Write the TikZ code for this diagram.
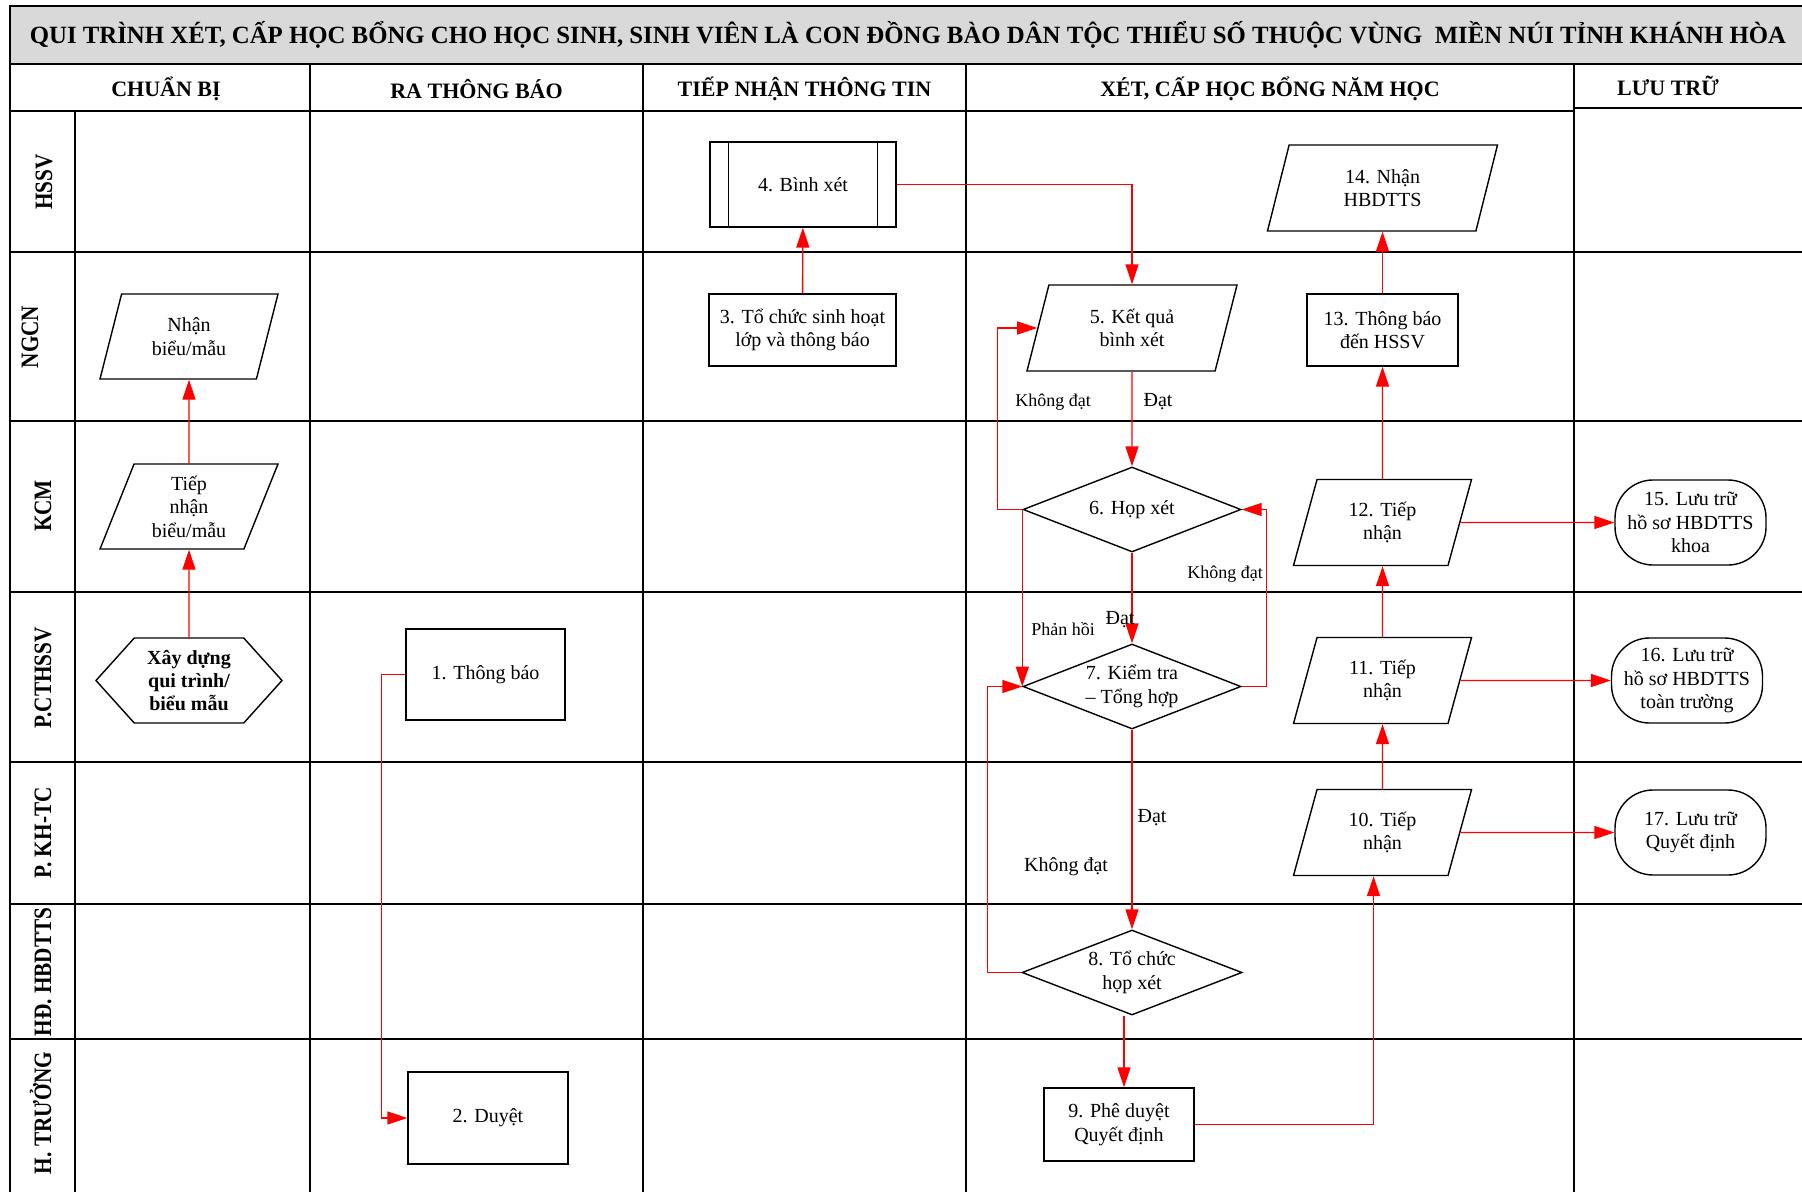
\documentclass[tikz,border=0pt]{standalone}
\usepackage{fontspec}
\setmainfont{Liberation Serif}
\newfontfamily\lanefont[FakeStretch=0.85]{Liberation Serif}
\usetikzlibrary{arrows.meta, shapes.geometric, shapes.symbols, positioning}
\definecolor{titlegray}{RGB}{217,217,217}

\begin{document}
\begin{tikzpicture}[x=0.5pt, y=-0.5pt,
  font=\fontsize{10}{11.7}\selectfont,
  laneline/.style={line width=0.8pt},
  procbox/.style={
    draw,
    rectangle,
    line width=0.7pt,
    fill=white,
    align=center
  },
  iobox/.style={
    draw,
    trapezium,
    trapezium left angle=62.5,
    trapezium right angle=117.5,
    trapezium stretches body=true,
    minimum width=89pt,
    minimum height=42.5pt,
    inner sep=1pt,
    line width=0.7pt,
    fill=white,
    align=center
  },
  decbox/.style={
    draw,
    diamond,
    aspect=2.5,
    minimum width=109pt,
    minimum height=42.5pt,
    inner sep=0pt,
    line width=0.7pt,
    fill=white,
    align=center
  },
  termbox/.style={
    draw,
    rectangle,
    rounded corners=19pt,
    minimum width=75.5pt,
    minimum height=42.5pt,
    line width=0.7pt,
    fill=white,
    align=center
  },
  hexbox/.style={
    draw,
    signal,
    signal to=west and east,
    signal pointer angle=96,
    minimum width=93pt,
    minimum height=42.5pt,
    line width=0.7pt,
    fill=white,
    align=center,
    font=\fontsize{10}{11.7}\selectfont\bfseries
  },
  lanetxt/.style={rotate=90, anchor=base, font=\lanefont\fontsize{12.5}{14}\selectfont\bfseries},
  headtxt/.style={font=\fontsize{11}{13}\selectfont\bfseries},
  edgetxt/.style={inner sep=1pt},
  line/.style={-{Triangle[length=10pt, width=6.5pt]}, red, line width=0.7pt}
  ]
\useasboundingbox (0,0) rectangle (1802,1192);

% Title and columns
\draw[laneline, fill=titlegray] (10,6) rectangle (1812,64);
\node[font=\fontsize{12.4}{14}\selectfont\bfseries] (title) at (908,35)
  {QUI TRÌNH XÉT, CẤP HỌC BỔNG CHO HỌC SINH, SINH VIÊN LÀ CON ĐỒNG BÀO DÂN TỘC THIỂU SỐ THUỘC VÙNG\ \ MIỀN NÚI TỈNH KHÁNH HÒA};

\draw[laneline] (10,64) -- (10,1200);
\draw[laneline] (10,111) -- (1574,111);
\draw[laneline] (1574,108) -- (1812,108);
\draw[laneline] (75,111) -- (75,1200);
\draw[laneline] (310,64) -- (310,1200);
\draw[laneline] (643,64) -- (643,1200);
\draw[laneline] (966,64) -- (966,1200);
\draw[laneline] (1574,64) -- (1574,1200);
\draw[laneline] (10,252) -- (1812,252);
\draw[laneline] (10,421) -- (1812,421);
\draw[laneline] (10,592) -- (1812,592);
\draw[laneline] (10,762) -- (1812,762);
\draw[laneline] (10,904) -- (1812,904);
\draw[laneline] (10,1039) -- (1812,1039);

\node[headtxt] (hcb) at (166,89) {CHUẨN BỊ};
\node[headtxt] (hrtb) at (476.5,89) {RA THÔNG BÁO};
\node[headtxt] (htn) at (804.5,89) {TIẾP NHẬN THÔNG TIN};
\node[headtxt] (hxet) at (1270,89) {XÉT, CẤP HỌC BỔNG NĂM HỌC};
\node[headtxt] (hlt) at (1668,86) {LƯU TRỮ};

% Lanes
\node[lanetxt] (lhssv) at (52,182) {HSSV};
\node[lanetxt] (lngcn) at (38,337) {NGCN};
\node[lanetxt] (lkcm) at (51,506) {KCM};
\node[lanetxt] (lpct) at (51,678) {P.CTHSSV};
\node[lanetxt] (lkhtc) at (51,833) {P. KH-TC};
\node[lanetxt] (lhd) at (51,972) {HĐ. HBDTTS};
\node[lanetxt] (lht) at (51,1113) {H. TRƯỞNG};

% Steps
\node[hexbox] (xd) at (189,680.5) {Xây dựng\\qui trình/\\biểu mẫu};
\node[iobox] (tnbm) at (189,506.5) {Tiếp\\nhận\\biểu/mẫu};
\node[iobox] (nbm) at (189,336.5) {Nhận\\biểu/mẫu};
\node[procbox, minimum width=79.5pt, minimum height=45.5pt] (tb1) at (485.5,674.5) {1. Thông báo};
\node[procbox, minimum width=80pt, minimum height=46pt] (dy2) at (488,1118) {2. Duyệt};
\node[procbox, minimum width=93.5pt, minimum height=36pt] (bt3) at (802.5,330) {3. Tổ chức sinh hoạt\\lớp và thông báo};
\node[procbox, minimum width=93pt, minimum height=42.5pt] (bx4) at (803,184.5) {4. Bình xét};
\draw[line width=0.7pt] ([xshift=9.5pt]bx4.north west) -- ([xshift=9.5pt]bx4.south west)
  ([xshift=-9.5pt]bx4.north east) -- ([xshift=-9.5pt]bx4.south east);
\node[iobox, minimum width=105pt, minimum height=43pt] (kq5) at (1132,328) {5. Kết quả\\bình xét};
\node[decbox] (hx6) at (1132,509.5) {6. Họp xét};
\node[decbox] (kt7) at (1132,686.5) {7. Kiểm tra\\– Tổng hợp};
\node[decbox, minimum width=110pt] (tc8) at (1132,972.5) {8. Tổ chức\\họp xét};
\node[procbox, minimum width=75pt, minimum height=36.5pt] (pd9) at (1119,1124.5) {9. Phê duyệt\\Quyết định};
\node[iobox, minimum height=43pt] (tn10) at (1382.5,832.5) {10. Tiếp\\nhận};
\node[iobox, minimum height=43pt] (tn11) at (1382.5,680.5) {11. Tiếp\\nhận};
\node[iobox, minimum height=43pt] (tn12) at (1382.5,522.5) {12. Tiếp\\nhận};
\node[procbox, minimum width=75.5pt, minimum height=36pt] (tb13) at (1382.5,330) {13. Thông báo\\đến HSSV};
\node[iobox, minimum width=115pt, minimum height=43pt] (nh14) at (1382.5,188) {14. Nhận\\HBDTTS};
\node[termbox] (lt15) at (1690.5,522.5) {15. Lưu trữ\\hồ sơ HBDTTS\\khoa};
\node[termbox] (lt16) at (1687,680.5) {16. Lưu trữ\\hồ sơ HBDTTS\\toàn trường};
\node[termbox] (lt17) at (1690.5,832.5) {17. Lưu trữ\\Quyết định};

% Arrows
\draw[line] (xd) -- (tnbm);
\draw[line] (tnbm) -- (nbm);
\draw[line] (tb1.west) -- ++(-24,0) |- (dy2.west);
\draw[line] (bt3) -- (bx4);
\draw[line] (bx4.east) -| (kq5);
\draw[line] (kq5) -- (hx6);
\draw[line] (hx6.west) -- ++(-25,0) |- (kq5);
\draw[line] (hx6.west) -- (kt7.west);
\draw[line] (hx6) -- (kt7);
\draw[line] (kt7.east) -- ++(25,0) |- (hx6.east);
\draw[line] (kt7) -- (tc8);
\draw[line] (tc8.west) -- ++(-34,0) |- (kt7.west);
\coordinate (pd9in) at ([xshift=2.5pt]pd9.north);
\draw[line] (pd9in |- tc8.south) -- (pd9in);
\coordinate (tn10in) at ([xshift=-4.5pt]tn10.south);
\draw[line] (pd9.east) -| (tn10in);
\draw[line] (tn10) -- (tn11);
\draw[line] (tn11) -- (tn12);
\draw[line] (tn12) -- (tb13);
\draw[line] (tb13) -- (nh14);
\draw[line] (tn12) -- (lt15);
\draw[line] (tn11) -- (lt16);
\draw[line] (tn10) -- (lt17);

% Labels
\node[edgetxt, font=\fontsize{9}{11}\selectfont] (l65) at (1053,402) {Không đạt};
\node[edgetxt] (l56) at (1158,402) {Đạt};
\node[edgetxt, font=\fontsize{9}{11}\selectfont] (l76) at (1225,574) {Không đạt};
\node[edgetxt, font=\fontsize{9}{11}\selectfont] (lph) at (1063,629) {Phản hồi};
\node[edgetxt] (l67) at (1120,620) {Đạt};
\node[edgetxt] (l78) at (1152,818) {Đạt};
\node[edgetxt] (l87) at (1066,867) {Không đạt};

\end{tikzpicture}
\end{document}
